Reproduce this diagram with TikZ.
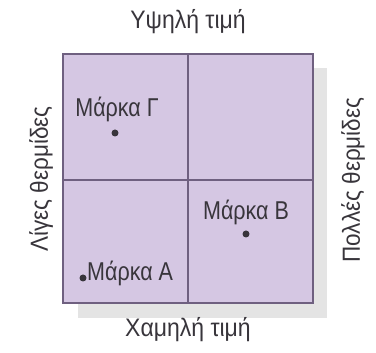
\documentclass[tikz,border=0pt]{standalone}
\usepackage{fontspec}
\setmainfont{Liberation Sans}
\definecolor{boxfill}{HTML}{D5C7E3}
\definecolor{boxline}{HTML}{6F6080}
\definecolor{shadowgray}{HTML}{E4E4E4}
\definecolor{ink}{HTML}{38353B}
\tikzset{
  lbl/.style={font=\fontsize{23}{25}\selectfont, text=ink, inner sep=0pt, yscale=1.1},
  sidelbl/.style={font=\fontsize{22.5}{25}\selectfont, text=ink, inner sep=0pt, xscale=1.1},
  brand/.style={font=\fontsize{21.5}{24}\selectfont, text=ink, inner sep=0pt, yscale=1.2},
  dot/.style={circle, fill=ink, inner sep=0pt, minimum size=7pt}
}
\begin{document}
\begin{tikzpicture}[x=1pt,y=-1pt]
\useasboundingbox (0,0) rectangle (376,353);
% drop shadow
\fill[shadowgray] (78,68) rectangle (327,318);
% quadrant grid
\fill[boxfill] (63,54) rectangle (313,303);
\draw[boxline, line width=1.2pt] (63,54) rectangle (313,303);
\draw[boxline, line width=1.2pt] (188,54) -- (188,303);
\draw[boxline, line width=1.2pt] (63,180) -- (313,180);
% axis labels
\node[lbl] (top) at (188,22) {Υψηλή τιμή};
\node[lbl] (bottom) at (188,330) {Χαμηλή τιμή};
\node[sidelbl, rotate=90] (left) at (41,179) {Λίγες θερμίδες};
\node[sidelbl, rotate=90] (right) at (353,180) {Πολλές θερμίδες};
% brands
\node[brand] (g) at (117,109) {Μάρκα Γ};
\node[dot] (gd) at (115,133) {};
\node[brand] (b) at (246,212) {Μάρκα Β};
\node[dot] (bd) at (246,234) {};
\node[dot] (ad) at (83,278) {};
\node[brand, anchor=west] (a) at (87,273) {Μάρκα Α};
\end{tikzpicture}
\end{document}
